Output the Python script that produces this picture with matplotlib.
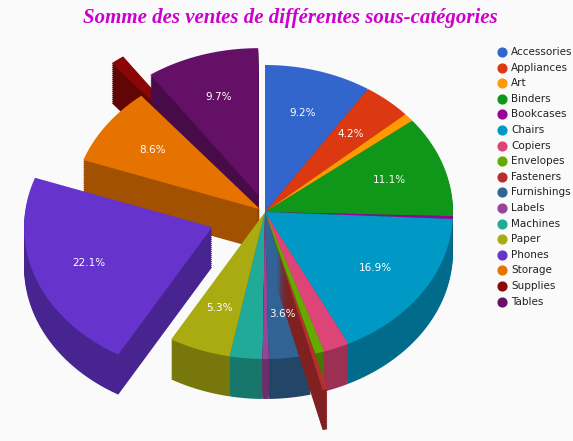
import numpy as np
import matplotlib.pyplot as plt
from matplotlib.colors import to_rgb

categories = ["Accessories", "Appliances", "Art", "Binders", "Bookcases", "Chairs",
              "Copiers", "Envelopes", "Fasteners", "Furnishings", "Labels", "Machines",
              "Paper", "Phones", "Storage", "Supplies", "Tables"]
values = [9.2, 4.2, 0.9, 11.1, 0.3, 16.9, 2.2, 0.8, 0.4, 3.6, 0.5, 2.8, 5.3, 22.1, 8.6, 1.2, 9.7]
colors = ["#3366cc", "#dc3912", "#ff9900", "#109618", "#990099", "#0099c6", "#dd4477",
          "#66aa00", "#b82e2e", "#316395", "#994499", "#22aa99", "#aaaa11", "#6633cc",
          "#e67300", "#8b0707", "#651067"]
explode = {"Phones": 0.3, "Tables": 0.12, "Supplies": 0.3, "Fasteners": 0.25, "Storage": 0.03}

W, H = 573, 441
fig = plt.figure(figsize=(W / 100, H / 100), dpi=100)
ax = fig.add_axes([0, 0, 1, 1])
ax.set_xlim(0, W)
ax.set_ylim(H, 0)
ax.axis("off")
fig.patch.set_facecolor("#fafafa")

cx, cy, rx, ry, depth = 265, 212, 188, 147, 40
total = sum(values)
slices = []
start = 0.0
for name, v, c in zip(categories, values, colors):
    span = v / total * 2 * np.pi
    mid = start + span / 2
    e = explode.get(name, 0)
    ox, oy = e * rx * np.sin(mid), -e * ry * np.cos(mid)
    t = np.linspace(start, start + span, max(3, int(span * 60)))
    xs = np.concatenate([[cx + ox], cx + ox + rx * np.sin(t)])
    ys = np.concatenate([[cy + oy], cy + oy - ry * np.cos(t)])
    slices.append((cy + oy - 0.5 * ry * np.cos(mid), xs, ys, c, v, mid, ox, oy))
    start += span

for key, xs, ys, c, v, mid, ox, oy in sorted(slices, key=lambda s: s[0]):
    dark = tuple(np.array(to_rgb(c)) * 0.7)
    for d in range(depth, 0, -2):
        ax.fill(xs, ys + d, color=dark, lw=0)
    ax.fill(xs, ys, color=c, lw=0)
    if v >= 3:
        tx = cx + ox + 0.7 * rx * np.sin(mid)
        ty = cy + oy - 0.7 * ry * np.cos(mid)
        ax.text(tx, ty, f"{v:.1f}%", color="white", fontsize=7.5, ha="center", va="center")

ax.text(290, 18, "Somme des ventes de différentes sous-catégories", fontsize=15,
        fontstyle="italic", fontweight="bold", family="Liberation Serif", color="#cc00cc",
        ha="center", va="center")

for i, (name, c) in enumerate(zip(categories, colors)):
    y = 52 + i * 15.6
    ax.scatter([502], [y], s=40, color=c)
    ax.text(511, y, name, fontsize=7.5, va="center", color="#222222")

fig.savefig("out.png", dpi=100, facecolor=fig.get_facecolor())
